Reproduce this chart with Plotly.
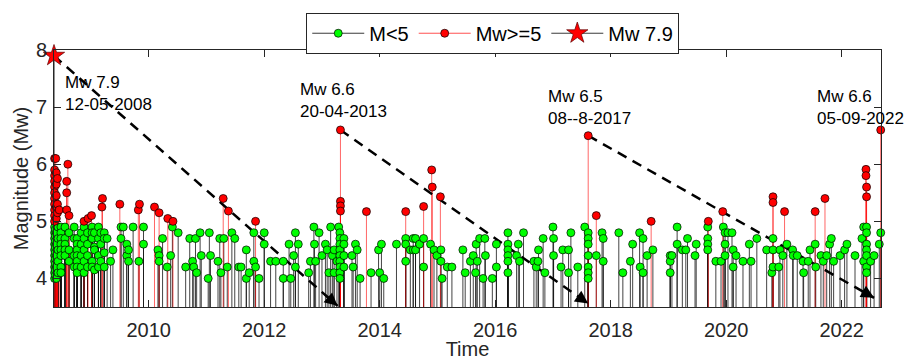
import plotly.graph_objects as go

# ---------------- data ----------------
# (decimal year, [magnitudes]) for events with M < 5
green_events = [
    (2008.37, [4.0, 4.1, 4.2, 4.3, 4.4, 4.5, 4.6, 4.7, 4.8, 4.9]),
    (2008.38, [4.05, 4.15, 4.25, 4.35, 4.45, 4.55, 4.65, 4.75, 4.85]),
    (2008.40, [4.0, 4.2, 4.4, 4.6, 4.8]),
    (2008.43, [4.1, 4.3, 4.5, 4.7, 4.9]),
    (2008.48, [4.9, 4.8, 4.7, 4.6, 4.5, 4.4, 4.2, 4.1]),
    (2008.55, [4.9, 4.7, 4.6, 4.5, 4.4]),
    (2008.62, [4.8, 4.5, 4.3]),
    (2008.71, [4.9, 4.7, 4.4, 4.2]),
    (2008.76, [4.7, 4.6, 4.5, 4.4, 4.3, 4.2, 4.1]),
    (2008.83, [4.8, 4.6, 4.4, 4.2]),
    (2008.88, [4.9, 4.7, 4.5, 4.3, 4.1]),
    (2008.94, [4.8, 4.6, 4.4, 4.2]),
    (2009.02, [4.9, 4.8, 4.7, 4.3, 4.2]),
    (2009.06, [4.8, 4.55, 4.5, 4.15]),
    (2009.13, [4.9, 4.7, 4.4, 4.2]),
    (2009.17, [4.8, 4.6, 4.3]),
    (2009.23, [4.8, 4.7, 4.45, 4.2]),
    (2009.28, [4.7]),
    (2009.34, [4.3]),
    (2009.38, [4.5]),
    (2009.52, [4.9, 4.7]),
    (2009.56, [4.9]),
    (2009.62, [4.6, 4.4]),
    (2009.65, [4.5, 4.3]),
    (2009.73, [4.9]),
    (2009.83, [4.3]),
    (2009.91, [4.9, 4.6]),
    (2010.16, [4.5]),
    (2010.18, [4.4, 4.3]),
    (2010.24, [4.7]),
    (2010.32, [4.2]),
    (2010.38, [4.4]),
    (2010.41, [4.9]),
    (2010.51, [4.8]),
    (2010.64, [4.2]),
    (2010.71, [4.7]),
    (2010.76, [4.3]),
    (2010.78, [4.2]),
    (2010.81, [4.7]),
    (2010.83, [4.1]),
    (2010.89, [4.8]),
    (2010.91, [4.4]),
    (2011.03, [4.0]),
    (2011.05, [4.8]),
    (2011.07, [4.4]),
    (2011.20, [4.3]),
    (2011.23, [4.7]),
    (2011.25, [4.1]),
    (2011.30, [4.7]),
    (2011.36, [4.2]),
    (2011.44, [4.8]),
    (2011.49, [4.7]),
    (2011.56, [4.2]),
    (2011.60, [4.2]),
    (2011.69, [4.5, 4.0]),
    (2011.74, [4.1]),
    (2011.82, [4.8, 4.3]),
    (2011.85, [4.2]),
    (2011.91, [4.0]),
    (2012.00, [4.8, 4.6]),
    (2012.11, [4.3]),
    (2012.20, [4.3]),
    (2012.33, [4.3, 4.0]),
    (2012.43, [4.6]),
    (2012.46, [4.0]),
    (2012.51, [4.4]),
    (2012.54, [4.8, 4.2]),
    (2012.59, [4.6]),
    (2012.77, [4.1]),
    (2012.80, [4.3]),
    (2012.86, [4.9]),
    (2012.87, [4.6]),
    (2012.89, [4.3]),
    (2012.95, [4.8]),
    (2013.00, [4.4]),
    (2013.06, [4.6]),
    (2013.09, [4.5]),
    (2013.12, [4.1]),
    (2013.15, [4.9]),
    (2013.18, [4.4]),
    (2013.21, [4.5, 4.1]),
    (2013.26, [4.3]),
    (2013.29, [4.9]),
    (2013.31, [4.8, 4.7, 4.6, 4.5, 4.4, 4.3, 4.2, 4.1, 4.0]),
    (2013.38, [4.7, 4.6, 4.4, 4.2]),
    (2013.52, [4.4]),
    (2013.54, [4.2]),
    (2013.58, [4.6]),
    (2013.61, [4.5]),
    (2013.66, [4.0]),
    (2013.85, [4.1]),
    (2013.98, [4.5]),
    (2014.00, [4.1]),
    (2014.03, [4.6]),
    (2014.07, [4.0]),
    (2014.29, [4.6]),
    (2014.45, [4.7, 4.6, 4.3]),
    (2014.53, [4.5]),
    (2014.58, [4.7, 4.5]),
    (2014.62, [4.5, 4.7]),
    (2014.69, [4.6]),
    (2014.76, [4.7, 4.2]),
    (2014.88, [4.6]),
    (2014.94, [4.5]),
    (2014.99, [4.4]),
    (2015.06, [4.5, 4.3]),
    (2015.08, [4.0]),
    (2015.17, [4.2]),
    (2015.25, [4.2]),
    (2015.44, [4.5]),
    (2015.48, [4.1]),
    (2015.57, [4.3]),
    (2015.62, [4.4]),
    (2015.66, [4.1]),
    (2015.67, [4.6]),
    (2015.69, [4.3]),
    (2015.73, [4.7]),
    (2015.79, [4.0]),
    (2015.82, [4.7]),
    (2015.83, [4.4]),
    (2015.95, [4.0]),
    (2016.02, [4.6, 4.2]),
    (2016.22, [4.8, 4.6, 4.5, 4.4, 4.3, 4.1]),
    (2016.37, [4.4]),
    (2016.40, [4.6]),
    (2016.42, [4.3]),
    (2016.49, [4.8]),
    (2016.67, [4.3]),
    (2016.71, [4.2]),
    (2016.74, [4.3]),
    (2016.75, [4.5]),
    (2016.83, [4.7]),
    (2016.86, [4.1]),
    (2017.00, [4.9]),
    (2017.01, [4.7, 4.4]),
    (2017.14, [4.2]),
    (2017.17, [4.5]),
    (2017.27, [4.5, 4.1]),
    (2017.31, [4.8]),
    (2017.43, [4.2]),
    (2017.55, [4.9]),
    (2017.61, [4.8, 4.7, 4.6, 4.4, 4.2, 4.1, 4.0]),
    (2017.75, [4.4]),
    (2017.85, [4.8]),
    (2017.87, [4.7, 4.3]),
    (2018.14, [4.8]),
    (2018.21, [4.1]),
    (2018.34, [4.3]),
    (2018.38, [4.6]),
    (2018.50, [4.8]),
    (2018.51, [4.2]),
    (2018.56, [4.7, 4.1]),
    (2018.63, [4.4]),
    (2018.73, [4.5]),
    (2019.03, [4.4, 4.3, 4.1]),
    (2019.06, [4.4]),
    (2019.15, [4.9, 4.6]),
    (2019.24, [4.5]),
    (2019.30, [4.5]),
    (2019.33, [4.7]),
    (2019.46, [4.4]),
    (2019.48, [4.6]),
    (2019.68, [4.9, 4.7, 4.6, 4.5]),
    (2019.82, [4.3]),
    (2019.91, [4.3]),
    (2019.95, [4.9]),
    (2019.98, [4.8, 4.6, 4.4]),
    (2020.03, [4.8]),
    (2020.10, [4.8]),
    (2020.12, [4.5, 4.2]),
    (2020.17, [4.4]),
    (2020.29, [4.3]),
    (2020.40, [4.6]),
    (2020.43, [4.3]),
    (2020.53, [4.7]),
    (2020.70, [4.5]),
    (2020.79, [4.1]),
    (2020.81, [4.7, 4.5, 4.2]),
    (2020.91, [4.2]),
    (2020.93, [4.5]),
    (2020.98, [4.4]),
    (2021.05, [4.6]),
    (2021.15, [4.5]),
    (2021.16, [4.4]),
    (2021.23, [4.4]),
    (2021.33, [4.3]),
    (2021.34, [4.1]),
    (2021.42, [4.3]),
    (2021.45, [4.5]),
    (2021.54, [4.6]),
    (2021.55, [4.2]),
    (2021.64, [4.4]),
    (2021.68, [4.3]),
    (2021.74, [4.4]),
    (2021.79, [4.6]),
    (2021.82, [4.7]),
    (2021.86, [4.3]),
    (2021.97, [4.4]),
    (2022.05, [4.5]),
    (2022.09, [4.6]),
    (2022.23, [4.4]),
    (2022.35, [4.7]),
    (2022.38, [4.9, 4.3]),
    (2022.43, [4.9, 4.8, 4.6, 4.5, 4.4, 4.2, 4.1]),
    (2022.50, [4.3]),
    (2022.56, [4.4]),
    (2022.65, [4.6]),
    (2022.675, [4.8]),
]

# (decimal year, [magnitudes]) for events with Mw >= 5
red_events = [
    (2008.37, [6.1, 5.9, 5.8, 5.7, 5.6, 5.5, 5.4, 5.3, 5.2, 5.1, 5.0]),
    (2008.39, [6.1]),
    (2008.40, [5.85, 5.65, 5.45, 5.25, 5.05]),
    (2008.42, [5.75, 5.3, 5.15]),
    (2008.45, [5.2]),
    (2008.58, [5.7, 5.5, 5.2]),
    (2008.60, [6.0]),
    (2008.62, [5.1]),
    (2008.88, [5.0]),
    (2008.95, [5.05]),
    (2009.01, [5.1]),
    (2009.19, [5.25]),
    (2009.20, [5.4]),
    (2009.50, [5.3]),
    (2009.82, [5.2]),
    (2009.84, [5.3]),
    (2010.10, [5.25]),
    (2010.18, [5.15]),
    (2010.33, [5.05]),
    (2010.42, [5.0]),
    (2011.29, [5.4]),
    (2011.38, [5.18]),
    (2011.85, [5.0]),
    (2013.32, [6.6, 5.35, 5.27, 5.18]),
    (2013.77, [5.17]),
    (2014.45, [5.17]),
    (2014.76, [5.26]),
    (2014.90, [5.9]),
    (2014.91, [5.6]),
    (2015.05, [5.43]),
    (2017.61, [6.5]),
    (2017.75, [5.1]),
    (2018.70, [5.0]),
    (2019.69, [5.0]),
    (2019.94, [5.17]),
    (2020.81, [5.43, 5.33]),
    (2021.01, [5.17]),
    (2021.54, [5.17]),
    (2021.71, [5.4]),
    (2022.42, [5.91, 5.8]),
    (2022.43, [5.6, 5.43]),
    (2022.675, [6.6]),
]

star_time = [2008.36]
star_mag = [7.9]

# labelled main shocks
label_text = ["Mw 7.9<br>12-05-2008", "Mw 6.6<br>20-04-2013",
              "Mw 6.5<br>08--8-2017", "Mw 6.6<br>05-09-2022"]
label_x = [2008.52, 2012.59, 2016.88, 2021.54]
label_y = [7.24, 7.11, 7.0, 7.0]

# dashed arrows: start (event) -> end
arrow_x0 = [2008.36, 2013.32, 2017.61]
arrow_y0 = [7.9, 6.6, 6.5]
arrow_x1 = [2013.27, 2017.61, 2022.56]
arrow_y1 = [3.52, 3.56, 3.66]

xtick_vals = [2010, 2012, 2014, 2016, 2018, 2020, 2022]
xtick_text = ["2010", "2012", "2014", "2016", "2018", "2020", "2022"]
ytick_vals = [4, 5, 6, 7, 8]

# ---------------- build ----------------
def flatten(events):
    ts, ms = [], []
    for t, mags in events:
        for m in mags:
            ts.append(t)
            ms.append(m)
    return ts, ms

green_time, green_mag = flatten(green_events)
red_time, red_mag = flatten(red_events)

BASE = 0.0

def stems(ts, ms):
    xs, ys = [], []
    for t, m in zip(ts, ms):
        xs += [t, t, None]
        ys += [BASE, m, None]
    return xs, ys

def points(ts, ms):
    xs, ys = [], []
    for t, m in zip(ts, ms):
        xs += [t, None]
        ys += [m, None]
    return xs, ys

FONT = "Liberation Sans, Arial, sans-serif"
AX = "#262626"
GREY_STEM = "rgba(15,15,15,0.78)"
RED_STEM = "rgba(255,0,0,0.6)"

fig = go.Figure()

gx, gy = stems(green_time, green_mag)
fig.add_trace(go.Scatter(x=gx, y=gy, mode="lines", line=dict(color=GREY_STEM, width=1),
                         showlegend=False, hoverinfo="skip"))
rx, ry = stems(red_time, red_mag)
fig.add_trace(go.Scatter(x=rx, y=ry, mode="lines", line=dict(color=RED_STEM, width=1),
                         showlegend=False, hoverinfo="skip"))
sx, sy = stems(star_time, star_mag)
fig.add_trace(go.Scatter(x=sx, y=sy, mode="lines", line=dict(color=AX, width=1),
                         showlegend=False, hoverinfo="skip"))

# dashed arrow shafts
for x0, y0, x1, y1 in zip(arrow_x0, arrow_y0, arrow_x1, arrow_y1):
    fig.add_trace(go.Scatter(x=[x0, x1], y=[y0, y1], mode="lines",
                             line=dict(color="black", width=2.5, dash="10px,7px"),
                             showlegend=False, hoverinfo="skip"))

px_, py_ = points(green_time, green_mag)
fig.add_trace(go.Scatter(x=px_, y=py_, mode="lines+markers", name="M<5",
                         line=dict(color="#3a3a3a", width=1),
                         marker=dict(color="#00ff00", size=8, line=dict(color="black", width=0.7)),
                         cliponaxis=False))
px_, py_ = points(red_time, red_mag)
fig.add_trace(go.Scatter(x=px_, y=py_, mode="lines+markers", name="Mw>=5",
                         line=dict(color="#ff5050", width=1),
                         marker=dict(color="#ff0000", size=8, line=dict(color="black", width=0.7)),
                         cliponaxis=False))
fig.add_trace(go.Scatter(x=star_time, y=star_mag, mode="lines+markers", name="Mw 7.9",
                         line=dict(color="#3a3a3a", width=1),
                         marker=dict(color="#ff0000", symbol="star", size=16,
                                     line=dict(color="#5a0000", width=0.7)),
                         cliponaxis=False))

# arrow heads
for x0, y0, x1, y1 in zip(arrow_x0, arrow_y0, arrow_x1, arrow_y1):
    fig.add_annotation(x=x1, y=y1, ax=x1 + 0.05 * (x0 - x1), ay=y1 + 0.05 * (y0 - y1),
                       xref="x", yref="y", axref="x", ayref="y", text="",
                       showarrow=True, arrowhead=2, arrowsize=1.3, arrowwidth=2,
                       arrowcolor="black")

for t, x, y in zip(label_text, label_x, label_y):
    fig.add_annotation(x=x, y=y, xref="x", yref="y", text=t, showarrow=False,
                       xanchor="left", yanchor="middle", align="left",
                       font=dict(family=FONT, size=17, color="black"))

fig.update_layout(
    width=907, height=360,
    margin=dict(l=54, r=26, t=50, b=53, autoexpand=False),
    paper_bgcolor="white", plot_bgcolor="white",
    font=dict(family=FONT, size=20, color=AX),
    legend=dict(orientation="h", x=0.305, y=1.145, xanchor="left", yanchor="top",
                bordercolor=AX, borderwidth=1, bgcolor="white",
                font=dict(family=FONT, size=20, color="black"),
                itemwidth=52, tracegroupgap=0),
)
fig.update_xaxes(range=[2008.36, 2022.68], tickvals=xtick_vals, ticktext=xtick_text,
                 automargin=False,
                 showgrid=False, zeroline=False, showline=True, mirror="ticks",
                 linecolor=AX, linewidth=1, ticks="inside", ticklen=7, tickcolor=AX,
                 tickfont=dict(family=FONT, size=20, color=AX), ticklabelstandoff=5,
                 title=dict(text="Time", font=dict(family=FONT, size=20, color=AX), standoff=4))
fig.update_yaxes(range=[3.5, 8], tickvals=ytick_vals, automargin=False,
                 showgrid=False, zeroline=False, showline=True, mirror="ticks",
                 linecolor=AX, linewidth=1, ticks="inside", ticklen=7, tickcolor=AX,
                 tickfont=dict(family=FONT, size=20, color=AX), ticklabelstandoff=2,
                 title=dict(text="Magnitude (Mw)", font=dict(family=FONT, size=20, color=AX),
                            standoff=1))

fig.write_html("out.html", config={"displayModeBar": False},
               post_script="document.body.style.margin='0px';")
